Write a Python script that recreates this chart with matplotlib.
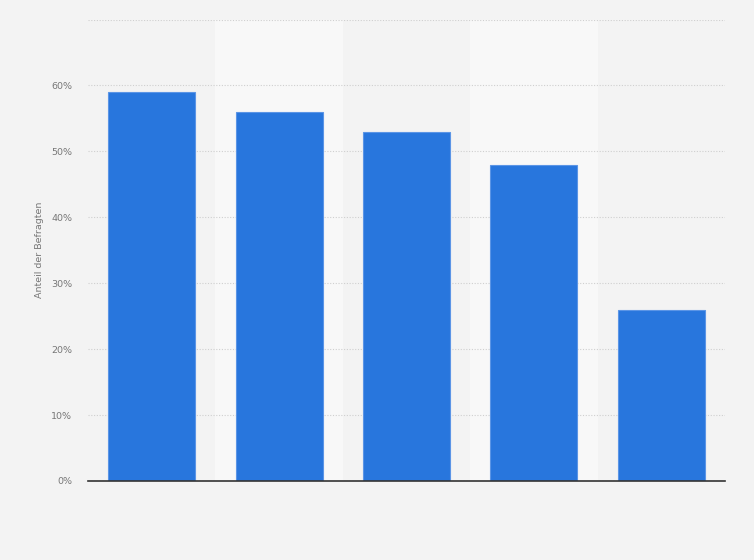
import matplotlib
matplotlib.use("Agg")
import matplotlib.pyplot as plt
import numpy as np

categories = ["", "", "", "", ""]
values = [59, 56, 53, 48, 26]
yticks = [0, 10, 20, 30, 40, 50, 60, 70]
ytick_labels = ["0%", "10%", "20%", "30%", "40%", "50%", "60%", ""]

W, H = 754, 560
fig = plt.figure(figsize=(W / 100, H / 100), dpi=100)
fig.patch.set_facecolor("#f3f3f3")
ax = fig.add_axes([88 / W, 1 - 481 / H, (725 - 88) / W, (481 - 19.5) / H])
ax.set_facecolor("#f3f3f3")

x = np.arange(len(values))
for i in x:
    if i % 2 == 1:
        ax.axvspan(i - 0.5, i + 0.5, color="#f8f8f8", zorder=0, lw=0)

ax.bar(x, values, width=0.684, color="#2876dd", edgecolor="#5b95e6", linewidth=0.8, zorder=3)

ax.set_xlim(-0.5, len(values) - 0.5)
ax.set_ylim(0, 70)
ax.set_yticks(yticks)
ax.set_yticklabels(ytick_labels, fontsize=6.8, color="#777777")
ax.set_xticks(x)
ax.set_xticklabels(categories)
ax.tick_params(axis="both", length=0, pad=11.5)
ax.grid(axis="y", color="#cfcfcf", linestyle=(0, (1, 1.5)), linewidth=0.8, zorder=1)
for s in ["top", "right", "left"]:
    ax.spines[s].set_visible(False)
ax.spines["bottom"].set_color("#333333")
ax.spines["bottom"].set_linewidth(1.2)
ax.spines["bottom"].set_zorder(4)

fig.text(40 / W, 1 - 250 / H, "Anteil der Befragten", rotation=90, fontsize=6.8,
         color="#777777", ha="center", va="center")

fig.savefig("out.png", dpi=100, facecolor=fig.get_facecolor())
